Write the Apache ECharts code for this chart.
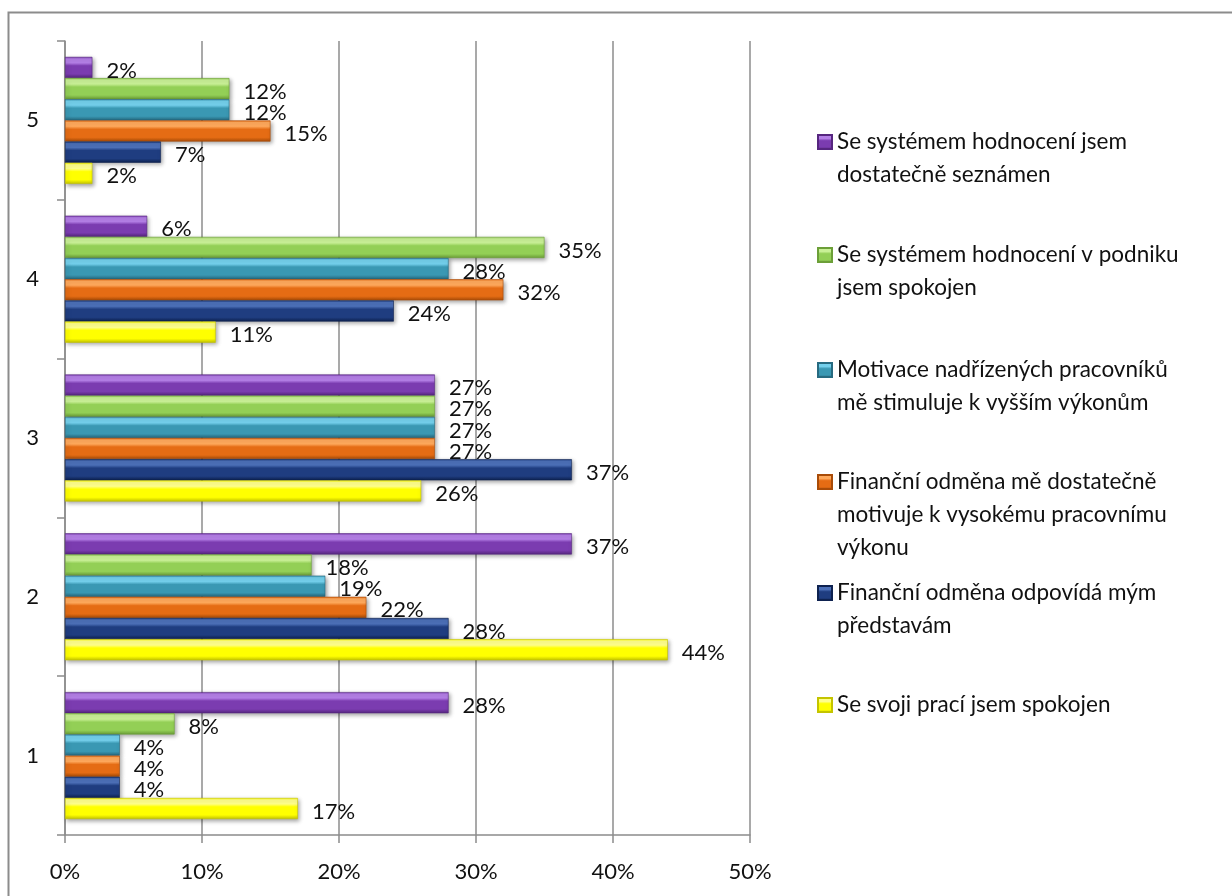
<!DOCTYPE html>
<html>
<head>
<meta charset="utf-8">
<script src="https://cdn.jsdelivr.net/npm/echarts@6/dist/echarts.min.js"></script>
<style>
  html, body { margin: 0; padding: 0; background: #fff; }
  #chart { width: 1232px; height: 896px; }
</style>
</head>
<body>
<div id="chart"></div>
<script>
// Rating categories (bottom to top)
const categories = ['1', '2', '3', '4', '5'];

// Survey statements (legend order, top to bottom)
const names = [
  'Se systémem hodnocení jsem dostatečně seznámen',
  'Se systémem hodnocení v podniku jsem spokojen',
  'Motivace nadřízených pracovníků mě stimuluje k vyšším výkonům',
  'Finanční odměna mě dostatečně motivuje k vysokému pracovnímu výkonu',
  'Finanční odměna odpovídá mým představám',
  'Se svoji prací jsem spokojen'
];

// Legend text split into lines
const legendLines = [
  ['Se systémem hodnocení jsem', 'dostatečně seznámen'],
  ['Se systémem hodnocení v podniku', 'jsem spokojen'],
  ['Motivace nadřízených pracovníků', 'mě stimuluje k vyšším výkonům'],
  ['Finanční odměna mě dostatečně', 'motivuje k vysokému pracovnímu', 'výkonu'],
  ['Finanční odměna odpovídá mým', 'představám'],
  ['Se svoji prací jsem spokojen']
];

// Share of answers (%) per category 1..5
const seznamen    = [28, 37, 27, 6, 2];
const spokojenHod = [8, 18, 27, 35, 12];
const motivace    = [4, 19, 27, 28, 12];
const odmenaMot   = [4, 22, 27, 32, 15];
const odmenaOdp   = [4, 28, 37, 24, 7];
const praci       = [17, 44, 26, 11, 2];

const seriesValues = [seznamen, spokojenHod, motivace, odmenaMot, odmenaOdp, praci];

// Axis ticks
const xTicks = { min: 0, max: 50, interval: 10 };

// Bevel-like shading: [highlight, base, dark]
const palette = [
  ['#b47fe6', '#7b3cb0', '#56267f'],
  ['#c9f096', '#93cf56', '#6c9f38'],
  ['#74d0ec', '#3a98b3', '#276a80'],
  ['#ffa95c', '#e56c14', '#a94c08'],
  ['#4c70b8', '#1f3d80', '#0e2250'],
  ['#ffff8c', '#ffff00', '#c4c400']
];

const FONT = 'Lato, "Open Sans", sans-serif';

function bevel(c) {
  return new echarts.graphic.LinearGradient(0, 0, 0, 1, [
    { offset: 0, color: c[1] },
    { offset: 0.1, color: c[0] },
    { offset: 0.28, color: c[0] },
    { offset: 0.42, color: c[1] },
    { offset: 0.8, color: c[1] },
    { offset: 1, color: c[2] }
  ]);
}

const series = names.map((n, i) => ({
  name: n,
  type: 'bar',
  data: seriesValues[i],
  barGap: '0%',
  barCategoryGap: '20%',
  itemStyle: {
    color: bevel(palette[i]),
    borderColor: palette[i][2],
    borderWidth: 0.6,
    shadowColor: 'rgba(0,0,0,0.35)',
    shadowBlur: 4,
    shadowOffsetX: 1.5,
    shadowOffsetY: 2
  },
  label: {
    show: true,
    position: 'right',
    distance: 14,
    offset: [0, 3],
    formatter: '{c}%',
    fontFamily: FONT,
    fontSize: 22,
    color: '#111'
  }
}));

// One legend block per statement so the blocks sit at even steps.
// Blank lines above the text keep the marker level with the first line.
const LH = 33;
const firstLineY = [142, 255, 370, 482, 593, 705];
const legends = names.map((n, i) => {
  const k = legendLines[i].length;
  const padLines = new Array(k - 1).fill(' ');
  const text = padLines.concat(legendLines[i]).join('\n');
  return {
    data: [{ name: n, icon: 'rect' }],
    orient: 'vertical',
    left: 817,
    top: firstLineY[i] - (2 * k - 1) * LH / 2,
    padding: 0,
    itemWidth: 14,
    itemHeight: 14,
    itemGap: 0,
    formatter: () => text,
    textStyle: {
      fontFamily: FONT,
      fontSize: 22.5,
      lineHeight: LH,
      color: '#111'
    }
  };
});

const chart = echarts.init(document.getElementById('chart'), null, { renderer: 'canvas' });
chart.setOption({
  animation: false,
  backgroundColor: '#fff',
  graphic: [{
    type: 'rect',
    z: -10,
    silent: true,
    shape: { x: 8.5, y: 12.5, width: 1240, height: 900 },
    style: { fill: 'none', stroke: '#8c8c8c', lineWidth: 2 }
  }],
  legend: legends,
  grid: { left: 65, right: 482, top: 41, bottom: 61, containLabel: false },
  xAxis: {
    type: 'value',
    min: xTicks.min,
    max: xTicks.max,
    interval: xTicks.interval,
    axisLine: { show: true, lineStyle: { color: '#8c8c8c', width: 1.5 } },
    axisTick: { show: true, length: 8, lineStyle: { color: '#8c8c8c', width: 1.5 } },
    splitLine: { show: true, lineStyle: { color: '#8c8c8c', width: 1.5 } },
    axisLabel: {
      formatter: '{value}%',
      fontFamily: FONT,
      fontSize: 22,
      color: '#111',
      margin: 26
    }
  },
  yAxis: {
    type: 'category',
    data: categories,
    axisLine: { show: true, lineStyle: { color: '#8c8c8c', width: 1.5 } },
    axisTick: { show: true, length: 8, lineStyle: { color: '#8c8c8c', width: 1.5 } },
    axisLabel: {
      fontFamily: FONT,
      fontSize: 22,
      color: '#111',
      margin: 26
    }
  },
  series: series
});
</script>
</body>
</html>
